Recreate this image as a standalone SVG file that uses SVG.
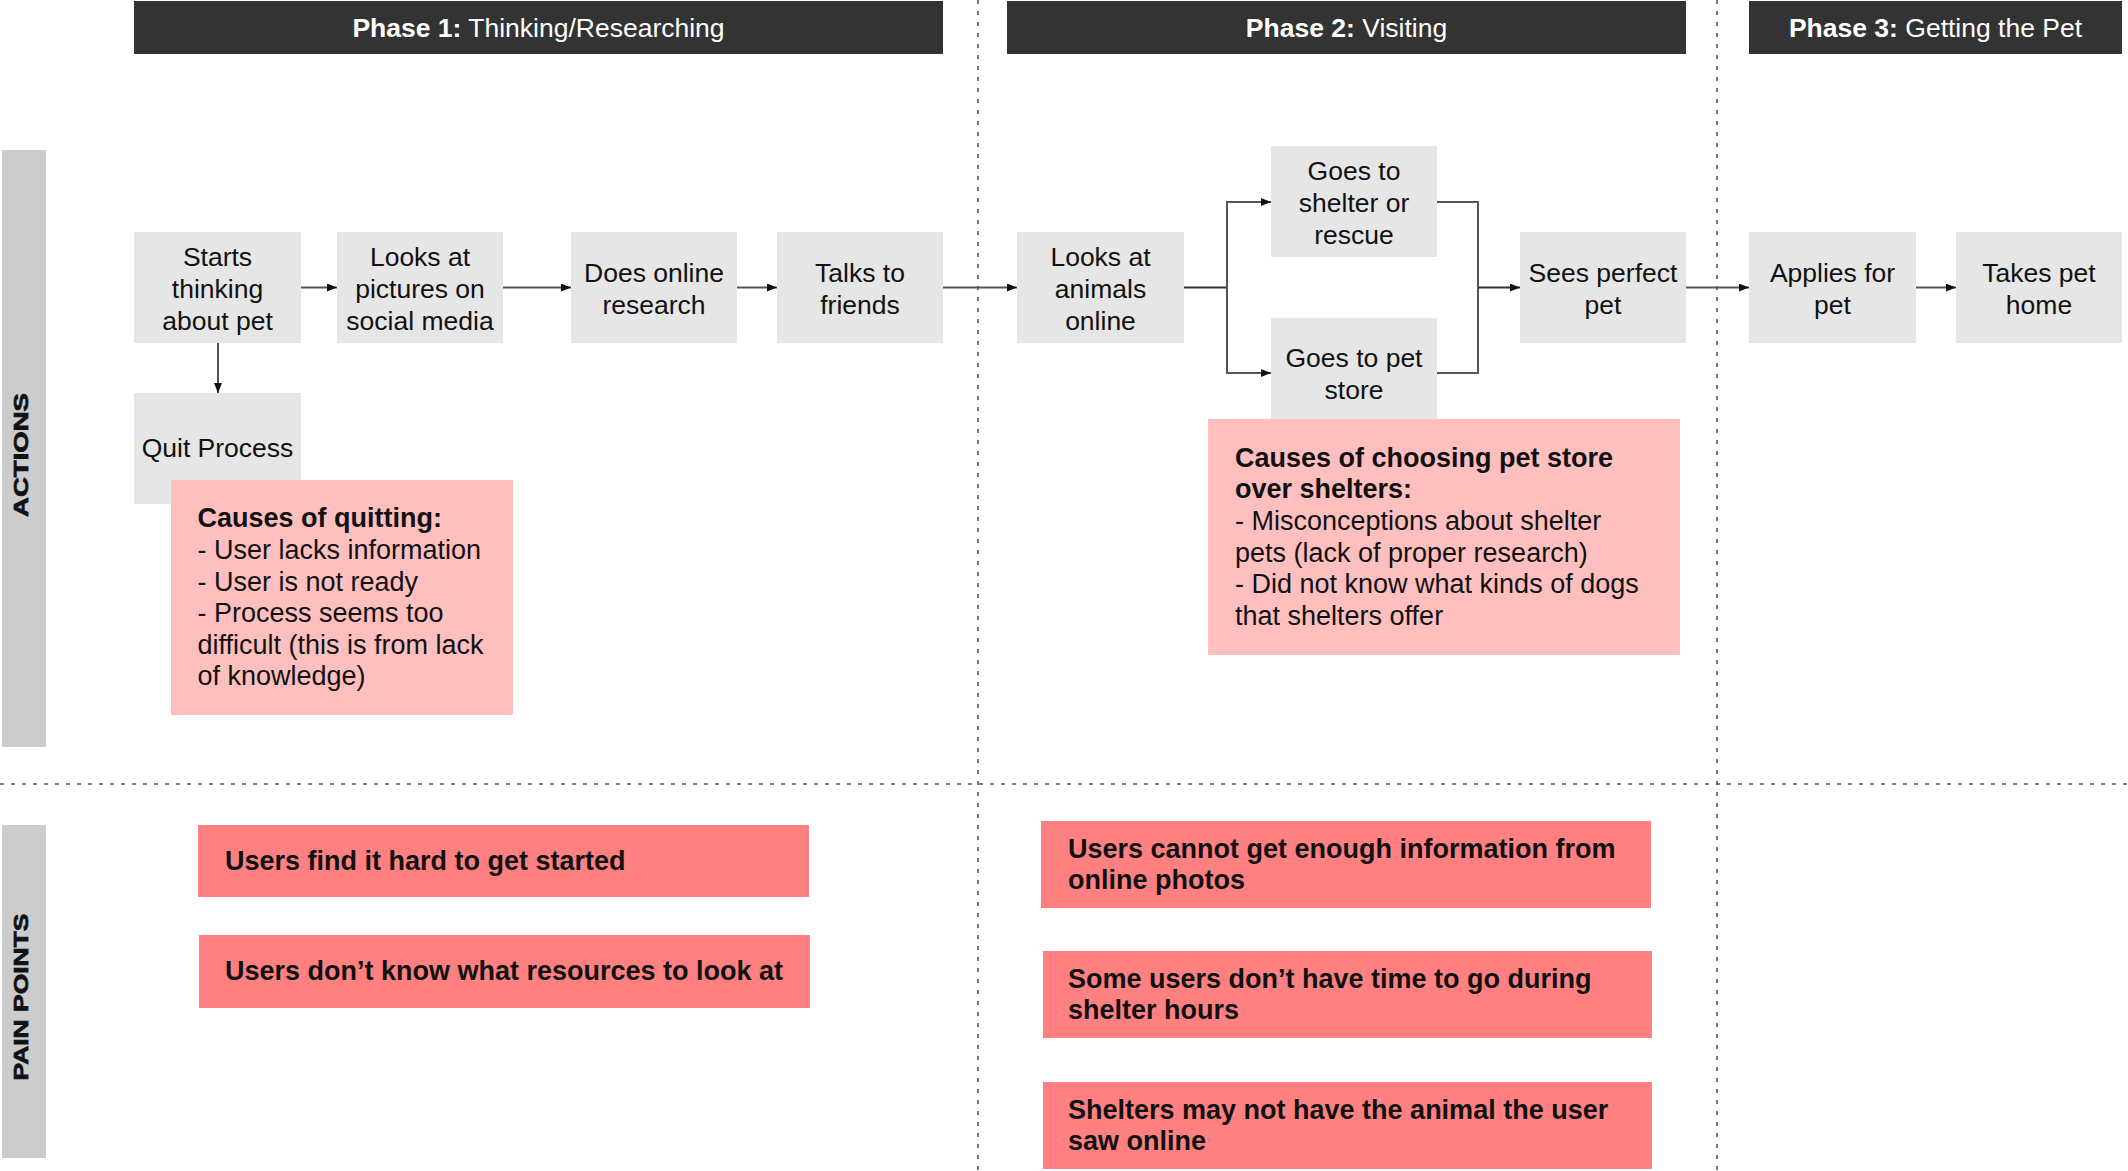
<svg xmlns="http://www.w3.org/2000/svg" width="2128" height="1171" viewBox="0 0 2128 1171">
<defs>
<marker id="ah" markerWidth="10" markerHeight="8" refX="10" refY="4" orient="auto" markerUnits="userSpaceOnUse">
<path d="M0,0 L10,4 L0,8 Z" fill="#111"/>
</marker>
<style>
text{font-family:"Liberation Sans",Arial,Helvetica,sans-serif;}
.hdr{fill:#333333;}
.hdrt{fill:#ffffff;font-size:26.5px;text-anchor:middle;}
.b{font-weight:bold;}
.node{fill:#e6e6e6;}
.nt{fill:#111;font-size:26.5px;text-anchor:middle;}
.cause{fill:#ffbfbf;}
.pain{fill:#ff8080;}
.ct{fill:#111;font-size:27px;}
.pt{fill:#111;font-size:27px;font-weight:bold;}
.side{fill:#cccccc;}
.sidet{fill:#111;stroke:#111;stroke-width:0.7;font-size:20px;font-weight:bold;text-anchor:middle;}
.sep{stroke:#555;stroke-width:1.6;stroke-dasharray:4 7;fill:none;}
.c{stroke:#555;stroke-width:2;fill:none;}
.cd{stroke:#333;stroke-width:2;fill:none;}
</style>
</defs>
<rect width="2128" height="1171" fill="#ffffff"/>

<g id="separators">
<line class="sep" x1="978" y1="0" x2="978" y2="1171"/>
<line class="sep" x1="1717" y1="0" x2="1717" y2="1171"/>
<line class="sep" x1="0" y1="784" x2="2128" y2="784"/>
</g>

<g id="phase1">
<rect class="hdr" x="134" y="1" width="809" height="53"/>
<text class="hdrt" x="538.5" y="37"><tspan class="b">Phase 1:</tspan> Thinking/Researching</text>
</g>
<g id="phase2">
<rect class="hdr" x="1007" y="1" width="679" height="53"/>
<text class="hdrt" x="1346.5" y="37"><tspan class="b">Phase 2:</tspan> Visiting</text>
</g>
<g id="phase3">
<rect class="hdr" x="1749" y="1" width="373" height="53"/>
<text class="hdrt" x="1935.5" y="37"><tspan class="b">Phase 3:</tspan> Getting the Pet</text>
</g>

<g id="lane-actions">
<rect class="side" x="2" y="150" width="44" height="597"/>
<text class="sidet" transform="translate(28,455) rotate(-90)" textLength="124" lengthAdjust="spacingAndGlyphs">ACTIONS</text>
</g>
<g id="lane-pain">
<rect class="side" x="2" y="825" width="44" height="333"/>
<text class="sidet" transform="translate(28,997) rotate(-90)" textLength="167" lengthAdjust="spacingAndGlyphs">PAIN POINTS</text>
</g>

<g id="connectors">
<line class="c" x1="301" y1="287.5" x2="337" y2="287.5" marker-end="url(#ah)"/>
<line class="c" x1="503" y1="287.5" x2="571" y2="287.5" marker-end="url(#ah)"/>
<line class="c" x1="737" y1="287.5" x2="777" y2="287.5" marker-end="url(#ah)"/>
<line class="c" x1="943" y1="287.5" x2="1017" y2="287.5" marker-end="url(#ah)"/>
<line class="c" x1="218" y1="343" x2="218" y2="393" marker-end="url(#ah)"/>
<line class="cd" x1="1184" y1="287.5" x2="1227" y2="287.5"/>
<polyline class="c" points="1271,202 1227,202 1227,373 1271,373"/>
<line class="c" x1="1227" y1="202" x2="1271" y2="202" marker-end="url(#ah)"/>
<line class="c" x1="1227" y1="373" x2="1271" y2="373" marker-end="url(#ah)"/>
<polyline class="c" points="1437,202 1478,202 1478,373 1437,373"/>
<line class="cd" x1="1478" y1="287.5" x2="1520" y2="287.5" marker-end="url(#ah)"/>
<line class="c" x1="1686" y1="287.5" x2="1749" y2="287.5" marker-end="url(#ah)"/>
<line class="c" x1="1916" y1="287.5" x2="1956" y2="287.5" marker-end="url(#ah)"/>
</g>

<g id="n-starts">
<rect class="node" x="134" y="232" width="167" height="111"/>
<text class="nt" x="217.5" y="266">Starts</text>
<text class="nt" x="217.5" y="298">thinking</text>
<text class="nt" x="217.5" y="330">about pet</text>
</g>
<g id="n-pictures">
<rect class="node" x="337" y="232" width="166" height="111"/>
<text class="nt" x="420" y="266">Looks at</text>
<text class="nt" x="420" y="298">pictures on</text>
<text class="nt" x="420" y="330">social media</text>
</g>
<g id="n-research">
<rect class="node" x="571" y="232" width="166" height="111"/>
<text class="nt" x="654" y="282">Does online</text>
<text class="nt" x="654" y="314">research</text>
</g>
<g id="n-friends">
<rect class="node" x="777" y="232" width="166" height="111"/>
<text class="nt" x="860" y="282">Talks to</text>
<text class="nt" x="860" y="314">friends</text>
</g>
<g id="n-animals">
<rect class="node" x="1017" y="232" width="167" height="111"/>
<text class="nt" x="1100.5" y="266">Looks at</text>
<text class="nt" x="1100.5" y="298">animals</text>
<text class="nt" x="1100.5" y="330">online</text>
</g>
<g id="n-shelter">
<rect class="node" x="1271" y="146" width="166" height="111"/>
<text class="nt" x="1354" y="180">Goes to</text>
<text class="nt" x="1354" y="212">shelter or</text>
<text class="nt" x="1354" y="244">rescue</text>
</g>
<g id="n-petstore">
<rect class="node" x="1271" y="318" width="166" height="101"/>
<text class="nt" x="1354" y="367">Goes to pet</text>
<text class="nt" x="1354" y="399">store</text>
</g>
<g id="n-sees">
<rect class="node" x="1520" y="232" width="166" height="111"/>
<text class="nt" x="1603" y="282">Sees perfect</text>
<text class="nt" x="1603" y="314">pet</text>
</g>
<g id="n-applies">
<rect class="node" x="1749" y="232" width="167" height="111"/>
<text class="nt" x="1832.5" y="282">Applies for</text>
<text class="nt" x="1832.5" y="314">pet</text>
</g>
<g id="n-takes">
<rect class="node" x="1956" y="232" width="166" height="111"/>
<text class="nt" x="2039" y="282">Takes pet</text>
<text class="nt" x="2039" y="314">home</text>
</g>
<g id="n-quit">
<rect class="node" x="134" y="393" width="167" height="111"/>
<text class="nt" x="217.5" y="457">Quit Process</text>
</g>

<g id="note-quitting">
<rect class="cause" x="171" y="480" width="342" height="235"/>
<text class="ct" x="197.5" y="527"><tspan class="b">Causes of quitting:</tspan></text>
<text class="ct" x="197.5" y="559">- User lacks information</text>
<text class="ct" x="197.5" y="591">- User is not ready</text>
<text class="ct" x="197.5" y="622">- Process seems too</text>
<text class="ct" x="197.5" y="654">difficult (this is from lack</text>
<text class="ct" x="197.5" y="685">of knowledge)</text>
</g>
<g id="note-petstore">
<rect class="cause" x="1208" y="419" width="472" height="236"/>
<text class="ct" x="1235" y="467"><tspan class="b">Causes of choosing pet store</tspan></text>
<text class="ct" x="1235" y="498"><tspan class="b">over shelters:</tspan></text>
<text class="ct" x="1235" y="530">- Misconceptions about shelter</text>
<text class="ct" x="1235" y="562">pets (lack of proper research)</text>
<text class="ct" x="1235" y="593">- Did not know what kinds of dogs</text>
<text class="ct" x="1235" y="625">that shelters offer</text>
</g>

<g id="pain-1">
<rect class="pain" x="198" y="825" width="611" height="72"/>
<text class="pt" x="225" y="870">Users find it hard to get started</text>
</g>
<g id="pain-2">
<rect class="pain" x="199" y="935" width="611" height="73"/>
<text class="pt" x="225" y="980">Users don’t know what resources to look at</text>
</g>
<g id="pain-3">
<rect class="pain" x="1041" y="821" width="610" height="87"/>
<text class="pt" x="1068" y="858">Users cannot get enough information from</text>
<text class="pt" x="1068" y="889">online photos</text>
</g>
<g id="pain-4">
<rect class="pain" x="1043" y="951" width="609" height="87"/>
<text class="pt" x="1068" y="988">Some users don’t have time to go during</text>
<text class="pt" x="1068" y="1019">shelter hours</text>
</g>
<g id="pain-5">
<rect class="pain" x="1043" y="1082" width="609" height="87"/>
<text class="pt" x="1068" y="1119">Shelters may not have the animal the user</text>
<text class="pt" x="1068" y="1150">saw online</text>
</g>
</svg>
